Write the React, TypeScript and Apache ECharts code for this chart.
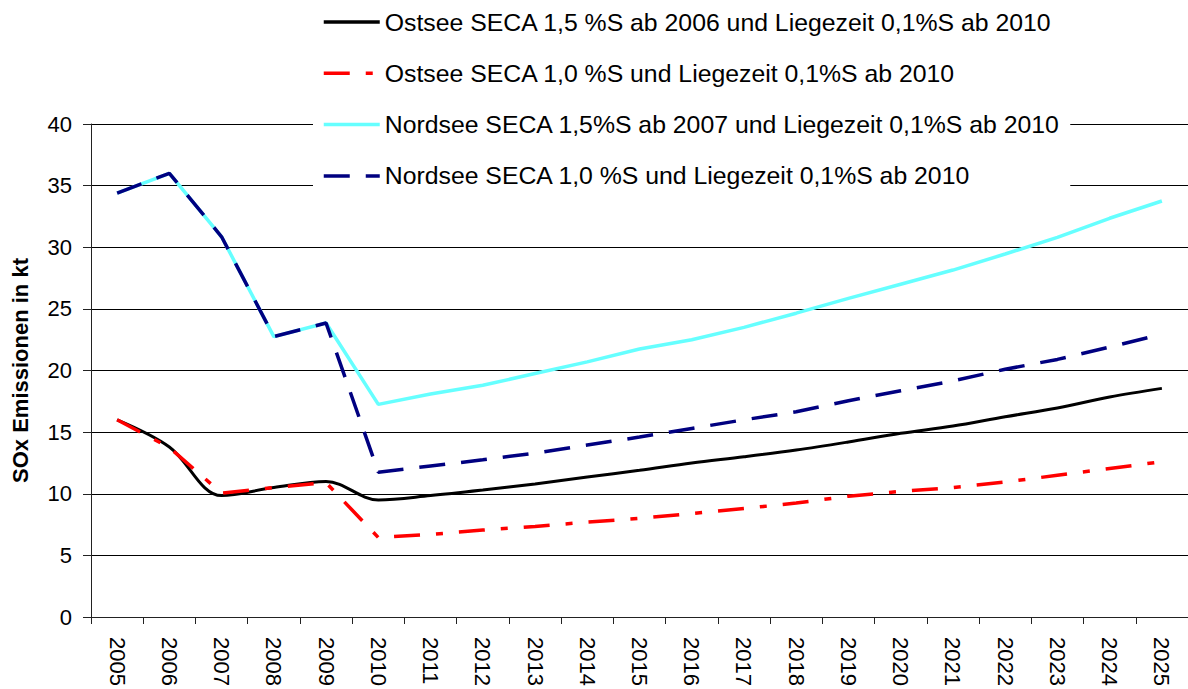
import React, { useEffect, useRef } from "react";
import * as echarts from "echarts";

const years = ["2005","2006","2007","2008","2009","2010","2011","2012","2013","2014","2015","2016","2017","2018","2019","2020","2021","2022","2023","2024","2025"];

const ostsee15 = [16.0, 13.8, 9.85, 10.5, 11.0, 9.5, 9.85, 10.3, 10.8, 11.35, 11.9, 12.5, 13.0, 13.55, 14.2, 14.9, 15.5, 16.25, 16.95, 17.85, 18.55];
const ostsee10 = [16.0, 13.75, 10.05, 10.5, 10.9, 6.45, 6.7, 7.05, 7.35, 7.7, 8.0, 8.4, 8.8, 9.25, 9.8, 10.2, 10.5, 10.95, 11.5, 12.05, 12.6];
const nordsee15 = [34.4, 36.0, 30.85, 22.75, 23.85, 17.25, 18.1, 18.8, 19.75, 20.7, 21.75, 22.5, 23.5, 24.65, 25.85, 27.0, 28.15, 29.45, 30.8, 32.35, 33.75];
const nordsee10 = [34.4, 36.0, 30.85, 22.75, 23.85, 11.75, 12.25, 12.75, 13.3, 13.95, 14.6, 15.3, 16.0, 16.65, 17.55, 18.35, 19.15, 20.1, 20.9, 21.9, 22.95];

const seriesNames = [
  "Ostsee SECA 1,5 %S ab 2006 und Liegezeit 0,1%S ab 2010",
  "Ostsee SECA 1,0 %S und Liegezeit 0,1%S ab 2010",
  "Nordsee SECA 1,5%S ab 2007 und Liegezeit 0,1%S ab 2010",
  "Nordsee SECA 1,0 %S und Liegezeit 0,1%S ab 2010",
];

const FONT = "'Liberation Sans', Arial, sans-serif";

export default function App() {
  const ref = useRef<HTMLDivElement>(null);
  useEffect(() => {
    if (!ref.current) return;
    const chart = echarts.init(ref.current, null, { renderer: "svg" });
    chart.setOption({
      animation: false,
      backgroundColor: "#fff",
      textStyle: { fontFamily: FONT },
      grid: { left: 91, right: -5, top: 124, bottom: 72, containLabel: false },
      legend: {
        orient: "vertical",
        left: 313,
        top: 0,
        padding: [9, 10, 10, 9],
        backgroundColor: "#fff",
        itemWidth: 56,
        itemHeight: 26,
        itemGap: 25.3,
        itemStyle: { opacity: 0 },
        lineStyle: { width: 3.5 },
        textStyle: { fontFamily: FONT, fontSize: 24.8, color: "#000", lineHeight: 26 },
        data: seriesNames,
      },
      xAxis: {
        type: "category",
        data: years,
        boundaryGap: true,
        axisLine: { show: true, lineStyle: { color: "#222", width: 1 } },
        axisTick: { show: true, length: 7, inside: false, alignWithLabel: false, lineStyle: { color: "#222" } },
        axisLabel: { rotate: -90, margin: 20, fontSize: 22, color: "#000", fontFamily: FONT, interval: 0 },
        splitLine: { show: false },
      },
      yAxis: {
        type: "value",
        min: 0,
        max: 40,
        interval: 5,
        name: "SOx Emissionen in kt",
        nameLocation: "middle",
        nameRotate: 90,
        nameGap: 60,
        nameTextStyle: { fontFamily: FONT, fontSize: 22, fontWeight: "bold", color: "#000" },
        axisLine: { show: true, lineStyle: { color: "#222", width: 1 } },
        axisTick: { show: true, length: 8, inside: false, lineStyle: { color: "#222" } },
        axisLabel: { margin: 19, fontSize: 22, color: "#000", fontFamily: FONT },
        splitLine: { show: true, lineStyle: { color: "#000", width: 1 } },
      },
      series: [
        {
          name: seriesNames[0],
          type: "line",
          data: ostsee15,
          symbol: "none",
          smooth: 0.35,
          lineStyle: { color: "#000000", width: 3 },
          itemStyle: { color: "#000000" },
        },
        {
          name: seriesNames[1],
          type: "line",
          data: ostsee10,
          symbol: "none",
          lineStyle: { color: "#ff0000", width: 3.5, type: [26, 16, 7, 16] },
          itemStyle: { color: "#ff0000" },
        },
        {
          name: seriesNames[2],
          type: "line",
          data: nordsee15,
          symbol: "none",
          lineStyle: { color: "#66ffff", width: 3.5 },
          itemStyle: { color: "#66ffff" },
        },
        {
          name: seriesNames[3],
          type: "line",
          data: nordsee10,
          symbol: "none",
          lineStyle: { color: "#000080", width: 3.5, type: [26, 16] },
          itemStyle: { color: "#000080" },
        },
      ],
    });
    return () => chart.dispose();
  }, []);
  return (
    <div
      ref={ref}
      style={{ position: "absolute", left: 0, top: 0, width: 1188, height: 689, background: "#fff" }}
    />
  );
}
